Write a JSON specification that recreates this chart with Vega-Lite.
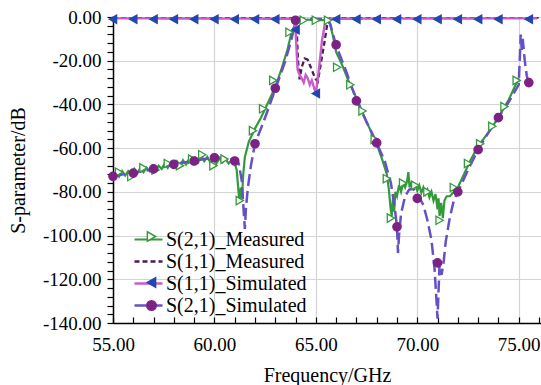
{
  "$schema": "https://vega.github.io/schema/vega-lite/v6.json",
  "width": 428,
  "height": 306,
  "autosize": {"type": "none"},
  "padding": {"left": 113, "top": 17, "right": 0, "bottom": 62},
  "background": "white",
  "config": {"view": {"stroke": null}, "font": "Liberation Serif"},
  "datasets": {
    "curves": [
      {"series": "S(2,1)_Measured", "f": 55, "db": -73},
      {"series": "S(2,1)_Measured", "f": 55.15, "db": -71},
      {"series": "S(2,1)_Measured", "f": 55.3, "db": -73},
      {"series": "S(2,1)_Measured", "f": 55.45, "db": -70.5},
      {"series": "S(2,1)_Measured", "f": 55.6, "db": -72.5},
      {"series": "S(2,1)_Measured", "f": 55.75, "db": -70.5},
      {"series": "S(2,1)_Measured", "f": 55.9, "db": -72},
      {"series": "S(2,1)_Measured", "f": 56.05, "db": -69.5},
      {"series": "S(2,1)_Measured", "f": 56.2, "db": -71.5},
      {"series": "S(2,1)_Measured", "f": 56.35, "db": -69},
      {"series": "S(2,1)_Measured", "f": 56.5, "db": -71},
      {"series": "S(2,1)_Measured", "f": 56.65, "db": -69},
      {"series": "S(2,1)_Measured", "f": 56.8, "db": -70.5},
      {"series": "S(2,1)_Measured", "f": 56.95, "db": -68},
      {"series": "S(2,1)_Measured", "f": 57.1, "db": -70},
      {"series": "S(2,1)_Measured", "f": 57.25, "db": -68},
      {"series": "S(2,1)_Measured", "f": 57.4, "db": -69.5},
      {"series": "S(2,1)_Measured", "f": 57.55, "db": -67},
      {"series": "S(2,1)_Measured", "f": 57.7, "db": -69},
      {"series": "S(2,1)_Measured", "f": 57.85, "db": -66.5},
      {"series": "S(2,1)_Measured", "f": 58, "db": -68},
      {"series": "S(2,1)_Measured", "f": 58.15, "db": -66},
      {"series": "S(2,1)_Measured", "f": 58.3, "db": -68},
      {"series": "S(2,1)_Measured", "f": 58.45, "db": -65.5},
      {"series": "S(2,1)_Measured", "f": 58.6, "db": -67.5},
      {"series": "S(2,1)_Measured", "f": 58.75, "db": -65},
      {"series": "S(2,1)_Measured", "f": 58.9, "db": -67},
      {"series": "S(2,1)_Measured", "f": 59.05, "db": -64.5},
      {"series": "S(2,1)_Measured", "f": 59.2, "db": -66.5},
      {"series": "S(2,1)_Measured", "f": 59.35, "db": -63.5},
      {"series": "S(2,1)_Measured", "f": 59.5, "db": -66},
      {"series": "S(2,1)_Measured", "f": 59.65, "db": -64},
      {"series": "S(2,1)_Measured", "f": 59.8, "db": -66.5},
      {"series": "S(2,1)_Measured", "f": 59.95, "db": -65},
      {"series": "S(2,1)_Measured", "f": 60.1, "db": -67},
      {"series": "S(2,1)_Measured", "f": 60.25, "db": -64.5},
      {"series": "S(2,1)_Measured", "f": 60.4, "db": -66.5},
      {"series": "S(2,1)_Measured", "f": 60.55, "db": -65},
      {"series": "S(2,1)_Measured", "f": 60.7, "db": -67},
      {"series": "S(2,1)_Measured", "f": 60.85, "db": -65.5},
      {"series": "S(2,1)_Measured", "f": 61, "db": -67},
      {"series": "S(2,1)_Measured", "f": 61.1, "db": -70},
      {"series": "S(2,1)_Measured", "f": 61.18, "db": -79},
      {"series": "S(2,1)_Measured", "f": 61.24, "db": -85},
      {"series": "S(2,1)_Measured", "f": 61.3, "db": -78},
      {"series": "S(2,1)_Measured", "f": 61.36, "db": -83},
      {"series": "S(2,1)_Measured", "f": 61.42, "db": -72},
      {"series": "S(2,1)_Measured", "f": 61.5, "db": -64},
      {"series": "S(2,1)_Measured", "f": 61.7, "db": -57},
      {"series": "S(2,1)_Measured", "f": 62, "db": -51},
      {"series": "S(2,1)_Measured", "f": 62.3, "db": -46},
      {"series": "S(2,1)_Measured", "f": 62.6, "db": -40},
      {"series": "S(2,1)_Measured", "f": 63, "db": -32},
      {"series": "S(2,1)_Measured", "f": 63.3, "db": -24},
      {"series": "S(2,1)_Measured", "f": 63.6, "db": -15},
      {"series": "S(2,1)_Measured", "f": 63.8, "db": -7},
      {"series": "S(2,1)_Measured", "f": 64, "db": -3},
      {"series": "S(2,1)_Measured", "f": 64.2, "db": -1.5},
      {"series": "S(2,1)_Measured", "f": 64.6, "db": -1.2},
      {"series": "S(2,1)_Measured", "f": 65, "db": -1.6},
      {"series": "S(2,1)_Measured", "f": 65.5, "db": -1.3},
      {"series": "S(2,1)_Measured", "f": 65.7, "db": -3},
      {"series": "S(2,1)_Measured", "f": 65.85, "db": -9},
      {"series": "S(2,1)_Measured", "f": 66, "db": -16},
      {"series": "S(2,1)_Measured", "f": 66.3, "db": -22},
      {"series": "S(2,1)_Measured", "f": 66.6, "db": -29},
      {"series": "S(2,1)_Measured", "f": 67, "db": -37},
      {"series": "S(2,1)_Measured", "f": 67.5, "db": -48},
      {"series": "S(2,1)_Measured", "f": 68, "db": -58},
      {"series": "S(2,1)_Measured", "f": 68.3, "db": -66},
      {"series": "S(2,1)_Measured", "f": 68.5, "db": -72},
      {"series": "S(2,1)_Measured", "f": 68.6, "db": -79},
      {"series": "S(2,1)_Measured", "f": 68.68, "db": -87},
      {"series": "S(2,1)_Measured", "f": 68.74, "db": -91},
      {"series": "S(2,1)_Measured", "f": 68.8, "db": -83},
      {"series": "S(2,1)_Measured", "f": 68.86, "db": -89},
      {"series": "S(2,1)_Measured", "f": 68.92, "db": -80},
      {"series": "S(2,1)_Measured", "f": 69, "db": -82},
      {"series": "S(2,1)_Measured", "f": 69.1, "db": -77},
      {"series": "S(2,1)_Measured", "f": 69.2, "db": -80},
      {"series": "S(2,1)_Measured", "f": 69.3, "db": -76},
      {"series": "S(2,1)_Measured", "f": 69.4, "db": -78},
      {"series": "S(2,1)_Measured", "f": 69.5, "db": -75},
      {"series": "S(2,1)_Measured", "f": 69.56, "db": -71},
      {"series": "S(2,1)_Measured", "f": 69.62, "db": -78},
      {"series": "S(2,1)_Measured", "f": 69.7, "db": -76},
      {"series": "S(2,1)_Measured", "f": 69.8, "db": -78.5},
      {"series": "S(2,1)_Measured", "f": 69.9, "db": -77},
      {"series": "S(2,1)_Measured", "f": 70, "db": -79.5},
      {"series": "S(2,1)_Measured", "f": 70.1, "db": -77},
      {"series": "S(2,1)_Measured", "f": 70.2, "db": -80.5},
      {"series": "S(2,1)_Measured", "f": 70.3, "db": -78},
      {"series": "S(2,1)_Measured", "f": 70.4, "db": -81},
      {"series": "S(2,1)_Measured", "f": 70.5, "db": -79},
      {"series": "S(2,1)_Measured", "f": 70.6, "db": -82.5},
      {"series": "S(2,1)_Measured", "f": 70.7, "db": -80},
      {"series": "S(2,1)_Measured", "f": 70.8, "db": -84},
      {"series": "S(2,1)_Measured", "f": 70.9, "db": -81},
      {"series": "S(2,1)_Measured", "f": 71, "db": -88},
      {"series": "S(2,1)_Measured", "f": 71.05, "db": -83},
      {"series": "S(2,1)_Measured", "f": 71.1, "db": -91},
      {"series": "S(2,1)_Measured", "f": 71.18, "db": -85},
      {"series": "S(2,1)_Measured", "f": 71.26, "db": -92},
      {"series": "S(2,1)_Measured", "f": 71.34, "db": -84},
      {"series": "S(2,1)_Measured", "f": 71.45, "db": -82},
      {"series": "S(2,1)_Measured", "f": 71.6, "db": -82},
      {"series": "S(2,1)_Measured", "f": 71.8, "db": -80},
      {"series": "S(2,1)_Measured", "f": 72, "db": -78},
      {"series": "S(2,1)_Measured", "f": 72.3, "db": -72},
      {"series": "S(2,1)_Measured", "f": 72.6, "db": -66},
      {"series": "S(2,1)_Measured", "f": 73, "db": -59},
      {"series": "S(2,1)_Measured", "f": 73.5, "db": -53},
      {"series": "S(2,1)_Measured", "f": 74, "db": -46},
      {"series": "S(2,1)_Measured", "f": 74.5, "db": -38},
      {"series": "S(2,1)_Measured", "f": 74.8, "db": -32},
      {"series": "S(2,1)_Measured", "f": 75, "db": -28},
      {"series": "S(1,1)_Measured", "f": 55, "db": -0.3},
      {"series": "S(1,1)_Measured", "f": 63.9, "db": -0.3},
      {"series": "S(1,1)_Measured", "f": 64.05, "db": -4},
      {"series": "S(1,1)_Measured", "f": 64.12, "db": -20},
      {"series": "S(1,1)_Measured", "f": 64.2, "db": -28.5},
      {"series": "S(1,1)_Measured", "f": 64.3, "db": -23},
      {"series": "S(1,1)_Measured", "f": 64.45, "db": -19},
      {"series": "S(1,1)_Measured", "f": 64.6, "db": -19.5},
      {"series": "S(1,1)_Measured", "f": 64.75, "db": -23},
      {"series": "S(1,1)_Measured", "f": 64.9, "db": -26.5},
      {"series": "S(1,1)_Measured", "f": 65, "db": -28.5},
      {"series": "S(1,1)_Measured", "f": 65.1, "db": -29.5},
      {"series": "S(1,1)_Measured", "f": 65.25, "db": -21},
      {"series": "S(1,1)_Measured", "f": 65.4, "db": -13},
      {"series": "S(1,1)_Measured", "f": 65.55, "db": -4},
      {"series": "S(1,1)_Measured", "f": 65.7, "db": -0.5},
      {"series": "S(1,1)_Measured", "f": 76, "db": -0.3},
      {"series": "S(1,1)_Simulated", "f": 55, "db": -0.6},
      {"series": "S(1,1)_Simulated", "f": 63.85, "db": -0.8},
      {"series": "S(1,1)_Simulated", "f": 63.95, "db": -3},
      {"series": "S(1,1)_Simulated", "f": 64, "db": -6},
      {"series": "S(1,1)_Simulated", "f": 64.05, "db": -15},
      {"series": "S(1,1)_Simulated", "f": 64.1, "db": -24},
      {"series": "S(1,1)_Simulated", "f": 64.2, "db": -26.5},
      {"series": "S(1,1)_Simulated", "f": 64.3, "db": -28},
      {"series": "S(1,1)_Simulated", "f": 64.4, "db": -30},
      {"series": "S(1,1)_Simulated", "f": 64.5, "db": -26.5},
      {"series": "S(1,1)_Simulated", "f": 64.6, "db": -28},
      {"series": "S(1,1)_Simulated", "f": 64.7, "db": -31},
      {"series": "S(1,1)_Simulated", "f": 64.8, "db": -29},
      {"series": "S(1,1)_Simulated", "f": 64.9, "db": -32},
      {"series": "S(1,1)_Simulated", "f": 65, "db": -35},
      {"series": "S(1,1)_Simulated", "f": 65.1, "db": -28},
      {"series": "S(1,1)_Simulated", "f": 65.2, "db": -20},
      {"series": "S(1,1)_Simulated", "f": 65.3, "db": -11},
      {"series": "S(1,1)_Simulated", "f": 65.45, "db": -3},
      {"series": "S(1,1)_Simulated", "f": 65.6, "db": -0.8},
      {"series": "S(1,1)_Simulated", "f": 75.9, "db": -0.6},
      {"series": "S(2,1)_Simulated", "f": 55, "db": -73},
      {"series": "S(2,1)_Simulated", "f": 55.5, "db": -72},
      {"series": "S(2,1)_Simulated", "f": 56, "db": -71.3},
      {"series": "S(2,1)_Simulated", "f": 56.5, "db": -70.5},
      {"series": "S(2,1)_Simulated", "f": 57, "db": -69.5},
      {"series": "S(2,1)_Simulated", "f": 57.5, "db": -68.5},
      {"series": "S(2,1)_Simulated", "f": 58, "db": -67.4},
      {"series": "S(2,1)_Simulated", "f": 58.5, "db": -66.6},
      {"series": "S(2,1)_Simulated", "f": 59, "db": -65.8},
      {"series": "S(2,1)_Simulated", "f": 59.5, "db": -65},
      {"series": "S(2,1)_Simulated", "f": 60, "db": -64.4},
      {"series": "S(2,1)_Simulated", "f": 60.5, "db": -64.5},
      {"series": "S(2,1)_Simulated", "f": 61, "db": -65.5},
      {"series": "S(2,1)_Simulated", "f": 61.2, "db": -67},
      {"series": "S(2,1)_Simulated", "f": 61.35, "db": -75},
      {"series": "S(2,1)_Simulated", "f": 61.45, "db": -90},
      {"series": "S(2,1)_Simulated", "f": 61.5, "db": -97},
      {"series": "S(2,1)_Simulated", "f": 61.55, "db": -88},
      {"series": "S(2,1)_Simulated", "f": 61.65, "db": -78},
      {"series": "S(2,1)_Simulated", "f": 61.8, "db": -68},
      {"series": "S(2,1)_Simulated", "f": 62, "db": -58},
      {"series": "S(2,1)_Simulated", "f": 62.5, "db": -46},
      {"series": "S(2,1)_Simulated", "f": 63, "db": -33},
      {"series": "S(2,1)_Simulated", "f": 63.5, "db": -20},
      {"series": "S(2,1)_Simulated", "f": 63.8, "db": -10},
      {"series": "S(2,1)_Simulated", "f": 64, "db": -2},
      {"series": "S(2,1)_Simulated", "f": 64.3, "db": -0.8},
      {"series": "S(2,1)_Simulated", "f": 65, "db": -0.8},
      {"series": "S(2,1)_Simulated", "f": 65.5, "db": -1},
      {"series": "S(2,1)_Simulated", "f": 65.7, "db": -3},
      {"series": "S(2,1)_Simulated", "f": 65.85, "db": -8},
      {"series": "S(2,1)_Simulated", "f": 66, "db": -13},
      {"series": "S(2,1)_Simulated", "f": 66.5, "db": -25},
      {"series": "S(2,1)_Simulated", "f": 67, "db": -38},
      {"series": "S(2,1)_Simulated", "f": 67.5, "db": -48},
      {"series": "S(2,1)_Simulated", "f": 68, "db": -57.6},
      {"series": "S(2,1)_Simulated", "f": 68.4, "db": -66},
      {"series": "S(2,1)_Simulated", "f": 68.7, "db": -76},
      {"series": "S(2,1)_Simulated", "f": 68.9, "db": -88},
      {"series": "S(2,1)_Simulated", "f": 69, "db": -96},
      {"series": "S(2,1)_Simulated", "f": 69.05, "db": -108},
      {"series": "S(2,1)_Simulated", "f": 69.1, "db": -100},
      {"series": "S(2,1)_Simulated", "f": 69.2, "db": -90},
      {"series": "S(2,1)_Simulated", "f": 69.4, "db": -82},
      {"series": "S(2,1)_Simulated", "f": 69.6, "db": -79},
      {"series": "S(2,1)_Simulated", "f": 69.8, "db": -78.5},
      {"series": "S(2,1)_Simulated", "f": 70, "db": -81},
      {"series": "S(2,1)_Simulated", "f": 70.3, "db": -86},
      {"series": "S(2,1)_Simulated", "f": 70.5, "db": -93},
      {"series": "S(2,1)_Simulated", "f": 70.7, "db": -102},
      {"series": "S(2,1)_Simulated", "f": 70.85, "db": -115},
      {"series": "S(2,1)_Simulated", "f": 70.95, "db": -130},
      {"series": "S(2,1)_Simulated", "f": 71, "db": -138},
      {"series": "S(2,1)_Simulated", "f": 71.05, "db": -125},
      {"series": "S(2,1)_Simulated", "f": 71.1, "db": -113},
      {"series": "S(2,1)_Simulated", "f": 71.2, "db": -118},
      {"series": "S(2,1)_Simulated", "f": 71.3, "db": -112},
      {"series": "S(2,1)_Simulated", "f": 71.4, "db": -103},
      {"series": "S(2,1)_Simulated", "f": 71.6, "db": -92},
      {"series": "S(2,1)_Simulated", "f": 71.8, "db": -84},
      {"series": "S(2,1)_Simulated", "f": 72, "db": -80},
      {"series": "S(2,1)_Simulated", "f": 72.5, "db": -70},
      {"series": "S(2,1)_Simulated", "f": 73, "db": -60.7},
      {"series": "S(2,1)_Simulated", "f": 73.5, "db": -53},
      {"series": "S(2,1)_Simulated", "f": 74, "db": -46},
      {"series": "S(2,1)_Simulated", "f": 74.5, "db": -39},
      {"series": "S(2,1)_Simulated", "f": 75, "db": -31},
      {"series": "S(2,1)_Simulated", "f": 75.05, "db": -20},
      {"series": "S(2,1)_Simulated", "f": 75.1, "db": -8},
      {"series": "S(2,1)_Simulated", "f": 75.15, "db": -15},
      {"series": "S(2,1)_Simulated", "f": 75.2, "db": -10},
      {"series": "S(2,1)_Simulated", "f": 75.3, "db": -20},
      {"series": "S(2,1)_Simulated", "f": 75.4, "db": -27},
      {"series": "S(2,1)_Simulated", "f": 75.5, "db": -30}
    ],
    "markers": [
      {"mk": "S(2,1)_Measured marker", "f": 55.3, "db": -71},
      {"mk": "S(2,1)_Measured marker", "f": 55.9, "db": -73},
      {"mk": "S(2,1)_Measured marker", "f": 56.5, "db": -69},
      {"mk": "S(2,1)_Measured marker", "f": 57.1, "db": -70},
      {"mk": "S(2,1)_Measured marker", "f": 57.7, "db": -67},
      {"mk": "S(2,1)_Measured marker", "f": 58.3, "db": -68},
      {"mk": "S(2,1)_Measured marker", "f": 58.9, "db": -65},
      {"mk": "S(2,1)_Measured marker", "f": 59.4, "db": -63},
      {"mk": "S(2,1)_Measured marker", "f": 59.95, "db": -68},
      {"mk": "S(2,1)_Measured marker", "f": 60.5, "db": -65},
      {"mk": "S(2,1)_Measured marker", "f": 61.25, "db": -84},
      {"mk": "S(2,1)_Measured marker", "f": 61.9, "db": -52},
      {"mk": "S(2,1)_Measured marker", "f": 62.4, "db": -42},
      {"mk": "S(2,1)_Measured marker", "f": 62.9, "db": -29},
      {"mk": "S(2,1)_Measured marker", "f": 63.7, "db": -7},
      {"mk": "S(2,1)_Measured marker", "f": 64.4, "db": -1.5},
      {"mk": "S(2,1)_Measured marker", "f": 65, "db": -1.5},
      {"mk": "S(2,1)_Measured marker", "f": 65.6, "db": -1.5},
      {"mk": "S(2,1)_Measured marker", "f": 66.05, "db": -23},
      {"mk": "S(2,1)_Measured marker", "f": 66.7, "db": -31},
      {"mk": "S(2,1)_Measured marker", "f": 67.3, "db": -43},
      {"mk": "S(2,1)_Measured marker", "f": 67.9, "db": -56},
      {"mk": "S(2,1)_Measured marker", "f": 68.5, "db": -74},
      {"mk": "S(2,1)_Measured marker", "f": 68.7, "db": -92},
      {"mk": "S(2,1)_Measured marker", "f": 69.3, "db": -76},
      {"mk": "S(2,1)_Measured marker", "f": 69.9, "db": -77},
      {"mk": "S(2,1)_Measured marker", "f": 70.5, "db": -80},
      {"mk": "S(2,1)_Measured marker", "f": 71.1, "db": -93},
      {"mk": "S(2,1)_Measured marker", "f": 71.8, "db": -78},
      {"mk": "S(2,1)_Measured marker", "f": 72.5, "db": -67},
      {"mk": "S(2,1)_Measured marker", "f": 73.1, "db": -58},
      {"mk": "S(2,1)_Measured marker", "f": 73.7, "db": -50},
      {"mk": "S(2,1)_Measured marker", "f": 74.3, "db": -41},
      {"mk": "S(2,1)_Measured marker", "f": 74.9, "db": -29},
      {"mk": "S(1,1)_Simulated marker", "f": 55, "db": -1},
      {"mk": "S(1,1)_Simulated marker", "f": 56, "db": -1},
      {"mk": "S(1,1)_Simulated marker", "f": 57, "db": -1},
      {"mk": "S(1,1)_Simulated marker", "f": 58, "db": -1},
      {"mk": "S(1,1)_Simulated marker", "f": 59, "db": -1},
      {"mk": "S(1,1)_Simulated marker", "f": 60, "db": -1},
      {"mk": "S(1,1)_Simulated marker", "f": 61, "db": -1},
      {"mk": "S(1,1)_Simulated marker", "f": 62, "db": -1},
      {"mk": "S(1,1)_Simulated marker", "f": 63, "db": -1},
      {"mk": "S(1,1)_Simulated marker", "f": 64, "db": -5.8},
      {"mk": "S(1,1)_Simulated marker", "f": 65, "db": -35},
      {"mk": "S(1,1)_Simulated marker", "f": 66, "db": -1},
      {"mk": "S(1,1)_Simulated marker", "f": 67, "db": -1},
      {"mk": "S(1,1)_Simulated marker", "f": 68, "db": -1},
      {"mk": "S(1,1)_Simulated marker", "f": 69, "db": -1},
      {"mk": "S(1,1)_Simulated marker", "f": 70, "db": -1},
      {"mk": "S(1,1)_Simulated marker", "f": 71, "db": -1},
      {"mk": "S(1,1)_Simulated marker", "f": 72, "db": -1},
      {"mk": "S(1,1)_Simulated marker", "f": 73, "db": -1},
      {"mk": "S(1,1)_Simulated marker", "f": 74, "db": -1},
      {"mk": "S(1,1)_Simulated marker", "f": 75.5, "db": -1},
      {"mk": "S(2,1)_Simulated marker", "f": 55, "db": -72.9},
      {"mk": "S(2,1)_Simulated marker", "f": 56, "db": -71.4},
      {"mk": "S(2,1)_Simulated marker", "f": 57, "db": -69.5},
      {"mk": "S(2,1)_Simulated marker", "f": 58, "db": -67.4},
      {"mk": "S(2,1)_Simulated marker", "f": 59, "db": -65.9},
      {"mk": "S(2,1)_Simulated marker", "f": 60, "db": -64.4},
      {"mk": "S(2,1)_Simulated marker", "f": 61, "db": -65.9},
      {"mk": "S(2,1)_Simulated marker", "f": 62, "db": -58},
      {"mk": "S(2,1)_Simulated marker", "f": 63, "db": -32.6},
      {"mk": "S(2,1)_Simulated marker", "f": 64, "db": -1.5},
      {"mk": "S(2,1)_Simulated marker", "f": 66, "db": -12.7},
      {"mk": "S(2,1)_Simulated marker", "f": 67, "db": -38.4},
      {"mk": "S(2,1)_Simulated marker", "f": 68, "db": -57.6},
      {"mk": "S(2,1)_Simulated marker", "f": 69, "db": -96},
      {"mk": "S(2,1)_Simulated marker", "f": 70, "db": -83},
      {"mk": "S(2,1)_Simulated marker", "f": 71, "db": -112.5},
      {"mk": "S(2,1)_Simulated marker", "f": 72, "db": -80},
      {"mk": "S(2,1)_Simulated marker", "f": 73, "db": -60.7},
      {"mk": "S(2,1)_Simulated marker", "f": 74, "db": -46},
      {"mk": "S(2,1)_Simulated marker", "f": 75.5, "db": -30}
    ]
  },
  "encoding": {
    "x": {
      "field": "f", "type": "quantitative",
      "scale": {"domain": [55, 76.1], "nice": false, "zero": false},
      "axis": {
        "title": "Frequency/GHz",
        "values": [55, 56, 57, 58, 59, 60, 61, 62, 63, 64, 65, 66, 67, 68, 69, 70, 71, 72, 73, 74, 75, 76],
        "labelExpr": "datum.value % 5 === 0 ? format(datum.value, '.2f') : ''",
        "labelFont": "Liberation Serif", "labelFontSize": 19, "labelColor": "black",
        "labelOverlap": false, "labelFlush": false, "labelBound": false, "labelPadding": 18,
        "tickSize": -6, "tickColor": "black", "tickWidth": 1.2,
        "domainColor": "black", "domainWidth": 1.5,
        "grid": true, "gridColor": "#d4d4d4", "gridWidth": 1.2,
        "gridOpacity": {"condition": {"test": "datum.value % 5 === 0", "value": 1}, "value": 0},
        "titleFont": "Liberation Serif", "titleFontSize": 20, "titleFontWeight": "normal",
        "titleColor": "black", "titlePadding": 11
      }
    },
    "y": {
      "field": "db", "type": "quantitative",
      "scale": {"domain": [-140, 0], "nice": false},
      "axis": {
        "title": "S-parameter/dB",
        "values": [-140, -136, -132, -128, -124, -120, -116, -112, -108, -104, -100, -96, -92, -88, -84, -80, -76, -72, -68, -64, -60, -56, -52, -48, -44, -40, -36, -32, -28, -24, -20, -16, -12, -8, -4, 0],
        "labelExpr": "datum.value % 20 === 0 ? (datum.value < 0 ? '-' : '') + format(abs(datum.value), '.2f') : ''",
        "labelFont": "Liberation Serif", "labelFontSize": 19, "labelColor": "black",
        "labelOverlap": false, "labelFlush": false, "labelBound": false, "labelPadding": 6,
        "tickSize": 6,
        "tickColor": "black", "tickWidth": 1.2,
        "domainColor": "black", "domainWidth": 1.5,
        "grid": true, "gridColor": "#d4d4d4", "gridWidth": 1.2,
        "gridOpacity": {"condition": {"test": "datum.value % 20 === 0", "value": 1}, "value": 0},
        "titleFont": "Liberation Serif", "titleFontSize": 20, "titleFontWeight": "normal",
        "titleColor": "black", "titlePadding": 14
      }
    }
  },
  "layer": [
    {
      "data": {"name": "curves"},
      "mark": {"type": "line", "clip": true},
      "encoding": {
        "color": {
          "field": "series", "type": "nominal",
          "scale": {
            "domain": ["S(2,1)_Measured", "S(1,1)_Measured", "S(1,1)_Simulated", "S(2,1)_Simulated"],
            "range": ["#339a3c", "#4a1d55", "#c85cc8", "#6650c8"]
          },
          "legend": {
            "title": null, "orient": "none", "legendX": 24, "legendY": 211, "direction": "vertical",
            "padding": 0, "rowPadding": 0, "symbolType": "M-1.4,0H1.4", "symbolSize": 400,
            "symbolStrokeWidth": 2.5, "labelFont": "Liberation Serif", "labelFontSize": 20,
            "labelColor": "black", "labelOffset": 6, "labelLimit": 300,
            "encode": {"symbols": {"update": {"strokeDash": {"signal": "datum.value === 'S(1,1)_Measured' ? [5, 3] : [1, 0]"}}}}
          }
        },
        "strokeDash": {
          "field": "series", "type": "nominal",
          "scale": {
            "domain": ["S(2,1)_Measured", "S(1,1)_Measured", "S(1,1)_Simulated", "S(2,1)_Simulated"],
            "range": [[1, 0], [5, 3], [1, 0], [12, 5]]
          },
          "legend": null
        },
        "strokeWidth": {
          "field": "series", "type": "ordinal",
          "scale": {
            "domain": ["S(2,1)_Measured", "S(1,1)_Measured", "S(1,1)_Simulated", "S(2,1)_Simulated"],
            "range": [2.2, 2.5, 2, 3]
          },
          "legend": null
        }
      }
    },
    {
      "data": {"name": "markers"},
      "mark": {"type": "point", "filled": true, "size": 70, "strokeWidth": 1.3, "opacity": 1},
      "encoding": {
        "shape": {
          "field": "mk", "type": "nominal",
          "scale": {
            "domain": ["S(2,1)_Measured marker", "S(1,1)_Measured marker", "S(1,1)_Simulated marker", "S(2,1)_Simulated marker"],
            "range": ["triangle-right", "circle", "triangle-left", "circle"]
          },
          "legend": {
            "title": null, "orient": "none", "legendX": 33, "legendY": 214, "direction": "vertical",
            "padding": 0, "rowPadding": 6, "symbolSize": 90, "symbolStrokeWidth": 1.5, "labelExpr": "''"
          }
        },
        "fill": {
          "field": "mk", "type": "nominal",
          "scale": {
            "domain": ["S(2,1)_Measured marker", "S(1,1)_Measured marker", "S(1,1)_Simulated marker", "S(2,1)_Simulated marker"],
            "range": ["white", "transparent", "#2346b0", "#7c2285"]
          },
          "legend": {
            "title": null, "orient": "none", "legendX": 33, "legendY": 214, "direction": "vertical",
            "padding": 0, "rowPadding": 6, "symbolSize": 90, "symbolStrokeWidth": 1.5, "labelExpr": "''"
          }
        },
        "stroke": {
          "field": "mk", "type": "nominal",
          "scale": {
            "domain": ["S(2,1)_Measured marker", "S(1,1)_Measured marker", "S(1,1)_Simulated marker", "S(2,1)_Simulated marker"],
            "range": ["#339a3c", "transparent", "#2346b0", "#7c2285"]
          },
          "legend": {
            "title": null, "orient": "none", "legendX": 33, "legendY": 214, "direction": "vertical",
            "padding": 0, "rowPadding": 6, "symbolSize": 90, "symbolStrokeWidth": 1.5, "labelExpr": "''"
          }
        }
      }
    }
  ]
}
